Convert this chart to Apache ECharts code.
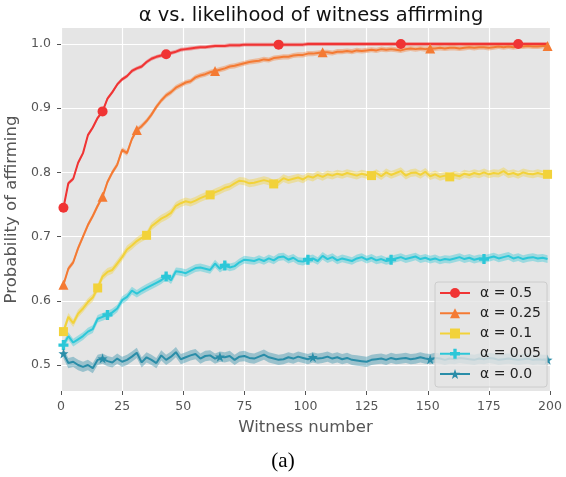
<!DOCTYPE html>
<html><head><meta charset="utf-8">
<script src="https://cdn.jsdelivr.net/npm/echarts@6/dist/echarts.min.js"></script>
<style>html,body{margin:0;padding:0;background:#fff}#c{width:566px;height:477px}</style>
</head><body><div id="c"></div>
<script>
// ---- data (x = 1,3,5,...,199) ----
const seriesNames = ['α = 0.5', 'α = 0.25', 'α = 0.1', 'α = 0.05', 'α = 0.0'];
const xTicks = [0, 25, 50, 75, 100, 125, 150, 175, 200];
const yTicks = [0.5, 0.6, 0.7, 0.8, 0.9, 1.0];

const redVals = [0.745,0.783,0.790,0.815,0.830,0.858,0.870,0.885,0.895,0.915,0.925,0.937,0.945,0.950,0.958,0.962,0.965,0.972,0.977,0.980,
0.982,0.984,0.986,0.988,0.991,0.992,0.993,0.994,0.995,0.995,0.996,0.997,0.997,0.997,0.998,0.998,0.998,0.999,0.999,0.999,
0.999,0.999,0.999,0.999,0.999,0.999,0.999,0.999,0.999,0.999,1.000,1.000,1.000,1.000,1.000,1.000,1.000,1.000,1.000,1.000,
1.000,1.000,1.000,1.000,1.000,1.000,1.000,1.000,1.000,1.000,1.000,1.000,1.000,1.000,1.000,1.000,1.000,1.000,1.000,1.000,
1.000,1.000,1.000,1.000,1.000,1.000,1.000,1.000,1.000,1.000,1.000,1.000,1.000,1.000,1.000,1.000,1.000,1.000,1.000,1.000];

const orangeVals = [0.625,0.650,0.660,0.682,0.700,0.718,0.732,0.748,0.762,0.785,0.800,0.812,0.835,0.830,0.852,0.866,0.872,0.880,0.890,0.902,
0.912,0.920,0.925,0.932,0.936,0.940,0.942,0.948,0.951,0.953,0.956,0.958,0.960,0.962,0.965,0.966,0.968,0.970,0.972,0.973,
0.974,0.976,0.975,0.978,0.979,0.980,0.980,0.982,0.983,0.983,0.985,0.985,0.986,0.987,0.987,0.986,0.988,0.988,0.989,0.988,
0.990,0.989,0.990,0.991,0.990,0.992,0.991,0.992,0.991,0.990,0.992,0.993,0.992,0.993,0.992,0.993,0.993,0.994,0.993,0.994,
0.994,0.993,0.994,0.995,0.994,0.995,0.995,0.994,0.995,0.996,0.995,0.996,0.995,0.996,0.996,0.997,0.996,0.996,0.997,0.997];

const yellowVals = [0.552,0.575,0.565,0.580,0.588,0.598,0.605,0.620,0.638,0.645,0.648,0.658,0.668,0.680,0.686,0.693,0.698,0.702,0.716,0.722,
0.728,0.732,0.737,0.748,0.752,0.755,0.753,0.756,0.760,0.763,0.765,0.769,0.772,0.776,0.778,0.783,0.787,0.786,0.783,0.784,
0.786,0.788,0.786,0.782,0.785,0.791,0.788,0.790,0.792,0.789,0.794,0.792,0.796,0.793,0.797,0.795,0.798,0.796,0.799,0.797,
0.795,0.798,0.796,0.795,0.799,0.794,0.800,0.796,0.799,0.802,0.795,0.799,0.800,0.796,0.801,0.794,0.797,0.793,0.795,0.793,
0.796,0.794,0.798,0.796,0.799,0.797,0.800,0.797,0.799,0.798,0.802,0.797,0.799,0.796,0.800,0.798,0.797,0.799,0.797,0.797];

const cyanVals = [0.531,0.545,0.535,0.540,0.545,0.552,0.556,0.572,0.575,0.578,0.582,0.588,0.601,0.606,0.616,0.611,0.616,0.620,0.624,0.628,
0.632,0.638,0.632,0.646,0.645,0.643,0.647,0.651,0.652,0.650,0.648,0.658,0.650,0.655,0.652,0.654,0.660,0.664,0.663,0.662,
0.665,0.662,0.666,0.663,0.668,0.669,0.664,0.667,0.662,0.661,0.664,0.666,0.662,0.670,0.665,0.668,0.663,0.666,0.664,0.662,
0.666,0.668,0.664,0.667,0.663,0.665,0.662,0.664,0.666,0.668,0.665,0.667,0.669,0.665,0.667,0.664,0.666,0.663,0.665,0.664,
0.666,0.668,0.665,0.667,0.664,0.666,0.665,0.667,0.669,0.666,0.668,0.670,0.666,0.668,0.665,0.667,0.668,0.666,0.667,0.665];

const tealVals = [0.518,0.503,0.505,0.500,0.497,0.500,0.495,0.508,0.510,0.506,0.504,0.510,0.505,0.508,0.513,0.519,0.504,0.512,0.508,0.503,
0.515,0.508,0.513,0.520,0.509,0.512,0.515,0.517,0.510,0.514,0.515,0.510,0.513,0.512,0.514,0.508,0.513,0.514,0.511,0.510,
0.513,0.516,0.512,0.510,0.508,0.509,0.512,0.510,0.513,0.511,0.509,0.512,0.510,0.511,0.513,0.510,0.512,0.509,0.511,0.508,
0.507,0.506,0.505,0.508,0.509,0.510,0.508,0.511,0.509,0.510,0.511,0.509,0.510,0.512,0.510,0.509,0.511,0.510,0.508,0.510,
0.509,0.511,0.510,0.509,0.508,0.510,0.509,0.511,0.510,0.508,0.509,0.510,0.509,0.508,0.509,0.510,0.508,0.509,0.508,0.508];

// confidence band half-widths (one per series)
const bandHalf = [0.003, 0.004, 0.006, 0.006, 0.008];

// witness numbers carrying a marker
const markRed = [1, 17, 43, 89, 139, 187];
const markOrange = [1, 17, 31, 63, 107, 151, 199];
const markYellow = [1, 15, 35, 61, 87, 127, 159, 199];
const markCyan = [1, 19, 43, 67, 101, 135, 173];
const markTeal = [1, 17, 65, 103, 151, 199];

// ---- styling ----
const colors = ['#F03434', '#F47A33', '#F2D23A', '#2CC7D8', '#2A8DA8'];
const symbols = [
  'circle',
  'triangle',
  'rect',
  'path://M-1,-3 L1,-3 L1,-1 L3,-1 L3,1 L1,1 L1,3 L-1,3 L-1,1 L-3,1 L-3,-1 L-1,-1 Z',
  'path://M0,-10 L2.35,-3.24 L9.51,-3.09 L3.8,1.24 L5.88,8.09 L0,4 L-5.88,8.09 L-3.8,1.24 L-9.51,-3.09 L-2.35,-3.24 Z'
];
const symSizes = [10, 10, 9, 10, 10];
const allVals = [redVals, orangeVals, yellowVals, cyanVals, tealVals];
const allMarks = [markRed, markOrange, markYellow, markCyan, markTeal];

function xAt(j) { return 1 + 2 * j; }
function hexA(hex, a) {
  const n = parseInt(hex.slice(1), 16);
  return 'rgba(' + (n >> 16 & 255) + ',' + (n >> 8 & 255) + ',' + (n & 255) + ',' + a + ')';
}

const series = [];
allVals.forEach((vals, i) => {
  const h = bandHalf[i];
  series.push({
    type: 'custom', name: '_band' + i, silent: true, z: 2,
    clip: true,
    data: [[xAt(0), vals[0]]],
    renderItem: (params, api) => {
      const up = vals.map((v, j) => api.coord([xAt(j), v + h]));
      const lo = vals.map((v, j) => api.coord([xAt(j), v - h])).reverse();
      return { type: 'polygon', shape: { points: up.concat(lo) }, style: { fill: hexA(colors[i], 0.4) } };
    }
  });
});
allVals.forEach((vals, i) => {
  const marks = new Set(allMarks[i]);
  series.push({
    type: 'line', name: seriesNames[i],
    symbol: symbols[i], symbolSize: symSizes[i], showSymbol: true,
    color: colors[i],
    itemStyle: { color: colors[i] },
    lineStyle: { color: colors[i], width: 2 },
    z: 3,
    data: vals.map((v, j) => {
      const x = xAt(j);
      return marks.has(x) ? { value: [x, v] } : { value: [x, v], symbol: 'none' };
    })
  });
});

const chart = echarts.init(document.getElementById('c'), null, { renderer: 'canvas' });
const font = 'DejaVu Sans';
chart.setOption({
  animation: false,
  backgroundColor: '#fff',
  title: {
    text: 'α vs. likelihood of witness affirming',
    left: 306, textAlign: 'center', top: 1,
    textStyle: { fontFamily: font, fontSize: 19.5, fontWeight: 'normal', color: '#111' }
  },
  grid: { left: 61, right: 16, top: 28, bottom: 86, show: true, backgroundColor: '#E5E5E5', borderWidth: 0,
    containLabel: false, outerBoundsMode: 'none' },
  xAxis: {
    type: 'value', min: 0, max: 200, interval: 25,
    name: 'Witness number', nameLocation: 'middle', nameGap: 28,
    nameTextStyle: { fontFamily: font, fontSize: 16.5, color: '#555' },
    axisLine: { show: false },
    axisTick: { show: true, length: 4, lineStyle: { color: '#555' } },
    axisLabel: { fontFamily: font, fontSize: 12.5, color: '#555', margin: 9 },
    splitLine: { show: true, lineStyle: { color: '#fff', width: 1.2 } }
  },
  yAxis: {
    type: 'value', min: 0.4595, max: 1.0249,
    name: 'Probability of affirming', nameLocation: 'middle', nameGap: 36,
    nameTextStyle: { fontFamily: font, fontSize: 16.5, color: '#555' },
    axisLine: { show: false },
    axisTick: { show: true, length: 4, lineStyle: { color: '#555' }, customValues: yTicks },
    axisLabel: { fontFamily: font, fontSize: 12.5, color: '#555', margin: 10, customValues: yTicks,
      formatter: v => v.toFixed(1) },
    splitLine: { show: true, lineStyle: { color: '#fff', width: 1.2 } }
  },
  legend: {
    data: seriesNames, orient: 'vertical', left: 435, top: 282,
    padding: [3, 6, 5, 4], itemWidth: 30, itemHeight: 12.5, itemGap: 4.25,
    backgroundColor: 'rgba(229,229,229,0.8)', borderColor: '#CCCCCC', borderWidth: 1, borderRadius: 3,
    textStyle: { fontFamily: font, fontSize: 14, color: '#222', lineHeight: 16, padding: [0, 0, 0, 5] }
  },
  graphic: [{
    type: 'text', left: 'center', top: 451,
    style: { text: '(a)', font: '21px "Liberation Serif"', fill: '#000' }
  }],
  series: series
});
</script>
</body></html>
